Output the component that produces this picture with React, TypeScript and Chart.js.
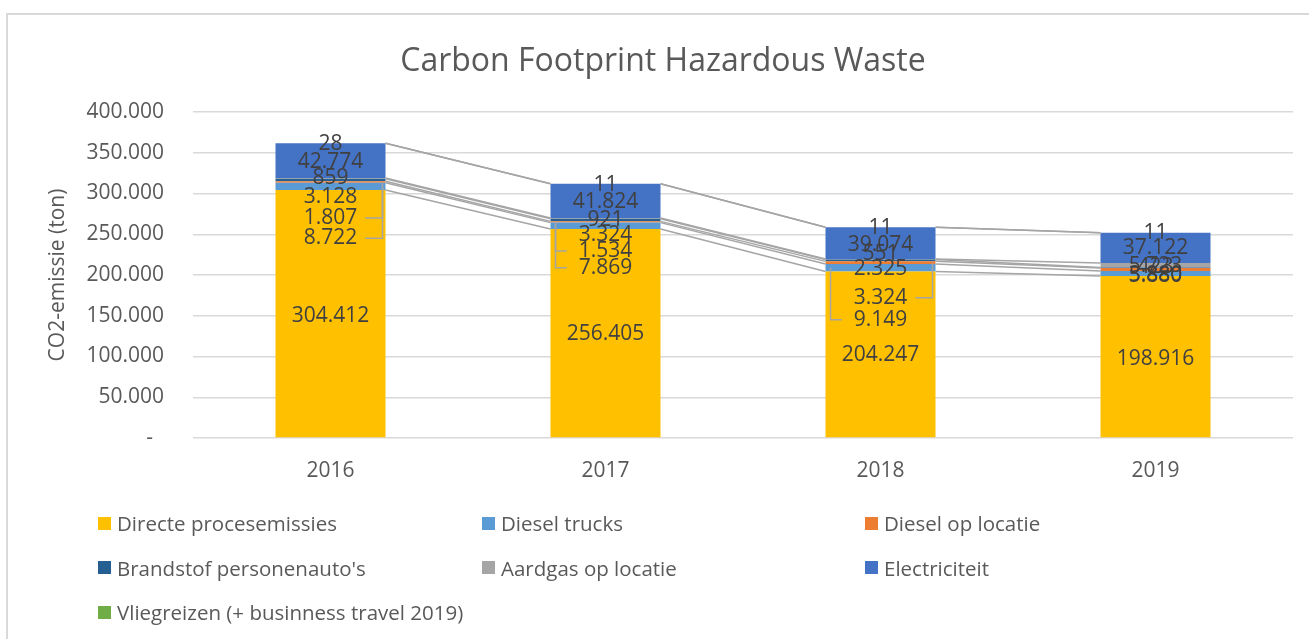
import React, { useEffect, useRef } from 'react';
import { Chart, registerables } from 'chart.js';

Chart.register(...registerables);

// ---------- data ----------
const years = ['2016', '2017', '2018', '2019'];
const directeProcesemissies = [304412, 256405, 204247, 198916];
const dieselTrucks = [8722, 7869, 9149, 5880];
const dieselOpLocatie = [1807, 1534, 3324, 3880];
const brandstofPersonenautos = [3128, 3324, 2325, 423];
const aardgasOpLocatie = [859, 921, 551, 5723];
const electriciteit = [42774, 41824, 39074, 37122];
const vliegreizen = [28, 11, 11, 11];
const yTickValues = [0, 50000, 100000, 150000, 200000, 250000, 300000, 350000, 400000];

const seriesNames = [
  'Directe procesemissies',
  'Diesel trucks',
  'Diesel op locatie',
  "Brandstof personenauto's",
  'Aardgas op locatie',
  'Electriciteit',
  'Vliegreizen (+ businness travel 2019)',
];
const seriesValues = [
  directeProcesemissies,
  dieselTrucks,
  dieselOpLocatie,
  brandstofPersonenautos,
  aardgasOpLocatie,
  electriciteit,
  vliegreizen,
];
const seriesColors = ['#FFC000', '#5B9BD5', '#ED7D31', '#255E91', '#A5A5A5', '#4472C4', '#70AD47'];

// ---------- label placement (style: px shift from segment centre, leader side) ----------
const labelShift = [
  [2, 1, 1, 2],
  [52, 42, 52, 3],
  [36, 29, 35, 6],
  [17, 15, 9, -1],
  [0, 2, -5, 1],
  [1, 1, 2, 0],
  [1, 1, 1, 0],
];
const leaderSide = [
  ['', '', '', ''],
  ['r', 'l', 'l', ''],
  ['r', 'l', 'r', ''],
  ['', '', '', ''],
  ['', '', '', ''],
  ['', '', '', ''],
  ['', '', '', ''],
];

const FONT = "'Open Sans', 'Noto Sans', sans-serif";

const fmt = (v: number) =>
  v === 0 ? '-  ' : String(Math.round(v)).replace(/\B(?=(\d{3})+(?!\d))/g, '.');

const overlayPlugin = {
  id: 'overlay',
  afterDatasetsDraw(chart: any) {
    const ctx = chart.ctx;
    const metas = chart.data.datasets.map((_: any, k: number) => chart.getDatasetMeta(k));
    ctx.save();
    // series lines
    ctx.strokeStyle = '#A5A5A5';
    ctx.lineWidth = 1.5;
    metas.forEach((meta: any) => {
      for (let i = 0; i < meta.data.length - 1; i++) {
        const a = meta.data[i];
        const b = meta.data[i + 1];
        ctx.beginPath();
        ctx.moveTo(a.x + a.width / 2, a.y);
        ctx.lineTo(b.x - b.width / 2, b.y);
        ctx.stroke();
      }
    });
    // data labels
    ctx.font = `21px ${FONT}`;
    ctx.fillStyle = '#404040';
    ctx.textAlign = 'center';
    ctx.textBaseline = 'middle';
    metas.forEach((meta: any, k: number) => {
      meta.data.forEach((el: any, i: number) => {
        const v = chart.data.datasets[k].data[i];
        const text = fmt(v);
        const cy = (el.y + el.base) / 2;
        const ly = cy + labelShift[k][i];
        const side = leaderSide[k][i];
        if (side) {
          const tw = ctx.measureText(text).width;
          const edge = side === 'r' ? el.x + el.width / 2 - 3 : el.x - el.width / 2 + 5;
          const start = side === 'r' ? el.x + tw / 2 + 8 : el.x - tw / 2 - 12;
          ctx.beginPath();
          ctx.moveTo(start, ly);
          ctx.lineTo(edge, ly);
          ctx.lineTo(edge, cy);
          ctx.stroke();
        }
        ctx.fillText(text, el.x, ly);
      });
    });
    ctx.restore();
  },
};

export default function App() {
  const canvasRef = useRef<HTMLCanvasElement | null>(null);

  useEffect(() => {
    document.body.style.margin = '0';
    document.body.style.overflow = 'hidden';
    const canvas = canvasRef.current;
    if (!canvas) return;
    const chart = new Chart(canvas, {
      type: 'bar',
      data: {
        labels: years,
        datasets: seriesNames.map((name, k) => ({
          label: name,
          data: seriesValues[k],
          backgroundColor: seriesColors[k],
          borderWidth: 0,
          categoryPercentage: 1,
          barPercentage: 0.4,
        })),
      },
      options: {
        responsive: false,
        animation: false,
        layout: { padding: { left: 33, right: 16, top: 0, bottom: 151 } },
        plugins: {
          legend: { display: false },
          tooltip: { enabled: false },
          title: {
            display: true,
            text: 'Carbon Footprint Hazardous Waste',
            color: '#595959',
            font: { family: FONT, size: 32, weight: 'normal' },
            padding: { top: 43, bottom: 30.6 },
          },
        },
        scales: {
          x: {
            stacked: true,
            grid: { display: false, drawTicks: false },
            border: { display: false },
            ticks: { color: '#595959', font: { family: FONT, size: 21 }, padding: 20 },
            afterFit: (s: any) => {
              s.height = 50;
            },
          },
          y: {
            stacked: true,
            min: 0,
            max: 400000,
            afterBuildTicks: (s: any) => {
              s.ticks = yTickValues.map((v) => ({ value: v }));
            },
            grid: { color: '#D9D9D9', lineWidth: 1.5, drawTicks: false },
            border: { display: false },
            ticks: {
              color: '#595959',
              font: { family: FONT, size: 21 },
              padding: 29,
              callback: (v: any) => fmt(Number(v)),
            },
            title: {
              display: true,
              text: 'CO2-emissie (ton)',
              color: '#595959',
              font: { family: FONT, size: 21, weight: 'normal' },
              padding: { top: 12.5, bottom: 0 },
            },
            afterFit: (s: any) => {
              s.width = 160;
            },
          },
        },
      },
      plugins: [overlayPlugin],
    });
    return () => chart.destroy();
  }, []);

  const legendLeft = [98, 482, 865];
  return (
    <div style={{ position: 'absolute', left: 0, top: 0, width: 1309, height: 639, overflow: 'hidden', background: '#fff', fontFamily: FONT }}>
      <div style={{ position: 'absolute', left: 6, top: 13, width: 1400, height: 700, borderLeft: '2px solid #D9D9D9', borderTop: '2px solid #D9D9D9' }} />
      <canvas ref={canvasRef} width={1309} height={639} style={{ position: 'absolute', left: 0, top: 0, width: 1309, height: 639 }} />
      {seriesNames.map((name, k) => {
        const col = k % 3;
        const row = Math.floor(k / 3);
        return (
          <div
            key={name}
            style={{
              position: 'absolute',
              left: legendLeft[col],
              top: 523 + row * 44.5 - 14,
              height: 28,
              display: 'flex',
              alignItems: 'center',
              whiteSpace: 'nowrap',
              color: '#595959',
              fontSize: 20.5,
            }}
          >
            <span style={{ display: 'inline-block', width: 13, height: 13, background: seriesColors[k], marginRight: 6 }} />
            <span>{name}</span>
          </div>
        );
      })}
    </div>
  );
}
